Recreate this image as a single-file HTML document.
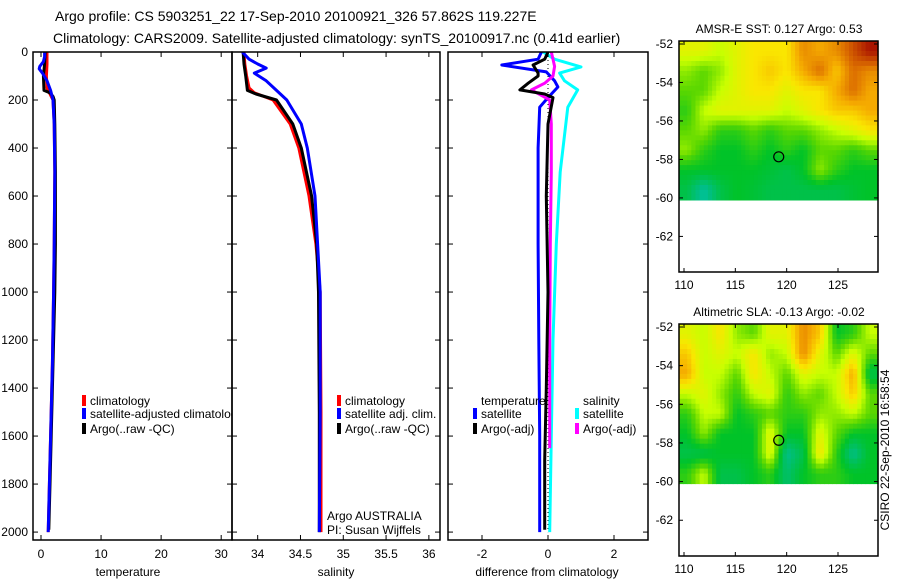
<!DOCTYPE html>
<html><head><meta charset="utf-8">
<style>
body{margin:0;background:#fff;}
svg{display:block;font-family:"Liberation Sans",sans-serif;}
text{fill:#000;}
</style></head>
<body>
<svg id="s" width="900" height="580" viewBox="0 0 900 580" xmlns="http://www.w3.org/2000/svg">
<text x="55" y="21" font-size="14">Argo profile: CS 5903251_22 17-Sep-2010 20100921_326 57.862S 119.227E</text>
<text x="53" y="43" font-size="14">Climatology: CARS2009. Satellite-adjusted climatology: synTS_20100917.nc (0.41d earlier)</text>
<text transform="translate(889,450) rotate(-90)" text-anchor="middle" font-size="12">CSIRO 22-Sep-2010 16:58:54</text>
</svg>
<script>
// ---------- data ----------
const depthTicks=[0,200,400,600,800,1000,1200,1400,1600,1800,2000];
const tempTicks=[0,10,20,30];
const salTicks=[34,34.5,35,35.5,36];
const diffTicks=[-2,0,2];
const lonTicks=[110,115,120,125];
const latTicks=[-52,-54,-56,-58,-60,-62];

const tClimDepth=[0,50,100,150,180,200,300,500,800,1000,1300,1600,1800,2000];
const tClimVal=[1.0,1.0,0.9,1.0,1.6,2.0,2.2,2.3,2.2,2.1,1.9,1.6,1.4,1.2];
const tSatDepth=[0,20,40,60,70,90,120,160,200,300,500,800,1000,1300,1600,1800,2000];
const tSatVal=[0.6,0.6,0.4,-0.2,-0.3,0.3,1.0,1.6,2.0,2.2,2.3,2.2,2.1,1.9,1.6,1.4,1.2];
const tArgoDepth=[0,50,100,160,170,185,200,300,500,800,1000,1300,1600,1800,1990];
const tArgoVal=[0.7,0.6,0.4,0.5,1.5,2.0,2.2,2.3,2.4,2.4,2.3,2.0,1.7,1.5,1.3];

const sClimDepth=[0,50,100,150,170,200,300,400,600,800,1000,1500,2000];
const sClimVal=[33.84,33.85,33.87,33.9,33.96,34.18,34.38,34.48,34.6,34.68,34.73,34.74,34.74];
const sSatDepth=[0,30,50,67,88,120,160,200,300,400,600,800,1000,1500,2000];
const sSatVal=[33.82,33.9,34.0,34.1,33.96,34.1,34.22,34.34,34.51,34.58,34.67,34.7,34.73,34.73,34.72];
const sArgoDepth=[0,50,100,160,175,200,300,400,600,800,1000,1500,2000];
const sArgoVal=[33.83,33.84,33.86,33.88,33.98,34.22,34.41,34.51,34.63,34.69,34.71,34.72,34.72];

const dTSatDepth=[0,30,54,83,120,146,190,230,400,800,1200,1600,2000];
const dTSatVal=[-0.2,-0.3,-1.4,-0.05,0.2,0.3,0.0,-0.25,-0.3,-0.3,-0.28,-0.25,-0.25];
const dTArgoDepth=[0,30,54,88,100,130,158,175,190,300,600,1000,1400,1700,1990];
const dTArgoVal=[0.0,-0.1,-0.45,-0.3,-0.3,-0.6,-0.85,-0.1,0.15,0.0,-0.05,0.0,-0.05,-0.1,-0.1];
const dSSatDepth=[0,30,62,88,120,158,230,500,800,1200,1600,2000];
const dSSatVal=[-0.15,0.2,1.0,0.35,0.5,0.9,0.6,0.37,0.25,0.15,0.1,0.05];
const dSArgoDepth=[0,30,60,100,130,158,200,300,500,800,1200,1650];
const dSArgoVal=[0.1,0.15,0.2,0.15,-0.1,-0.5,0.05,0.1,0.1,0.07,0.05,0.05];

const sstGrid=[
[.55,.55,.5,.55,.6,.6,.6,.75,.7,.75,.85,.95],
[.45,.4,.45,.55,.6,.65,.6,.7,.8,.65,.8,.75],
[.4,.4,.5,.55,.6,.6,.55,.6,.6,.7,.8,.7],
[.35,.5,.55,.55,.55,.55,.5,.55,.6,.65,.65,.7],
[.4,.45,.35,.35,.4,.35,.4,.4,.45,.5,.55,.6],
[.45,.35,.3,.3,.35,.3,.35,.3,.4,.4,.35,.4],
[.3,.3,.3,.3,.3,.28,.25,.3,.45,.35,.3,.3],
[.25,.12,.25,.3,.28,.25,.25,.25,.25,.25,.28,.3]];
const slaGrid=[
[.55,.5,.6,.45,.4,.55,.55,.75,.65,.3,.35,.5],
[.65,.5,.55,.5,.6,.45,.5,.75,.55,.4,.55,.4],
[.7,.5,.5,.4,.6,.5,.4,.55,.5,.5,.7,.25],
[.5,.55,.45,.35,.5,.55,.35,.45,.4,.5,.65,.4],
[.35,.5,.5,.3,.35,.4,.35,.35,.45,.45,.5,.4],
[.3,.45,.3,.3,.3,.55,.3,.3,.55,.4,.3,.3],
[.25,.25,.3,.3,.3,.55,.15,.25,.6,.35,.15,.3],
[.35,.5,.25,.25,.3,.35,.2,.3,.35,.35,.3,.3]];
const argoLon=[119.227];
const argoLat=[-57.862];

// ---------- helpers ----------
const S=document.getElementById('s');
const NS='http://www.w3.org/2000/svg';
function mk(tag,attrs,parent){const e=document.createElementNS(NS,tag);for(const k in attrs)e.setAttribute(k,attrs[k]);(parent||S).appendChild(e);return e;}
function txt(x,y,s,anchor,size,parent){const t=mk('text',{x:x,y:y,'font-size':size||12,'text-anchor':anchor||'start'},parent);t.textContent=s;return t;}

const Y0=52,Y1=540;
const yD=d=>Y0+(Y1-Y0)*d/2033;
function lin(a0,a1,p0,p1){return v=>p0+(v-a0)*(p1-p0)/(a1-a0);}

const panels=[
 {name:'temperature-panel',x0:33,x1:232,xs:lin(-1.33,31.8,33,232),ticks:tempTicks,label:'temperature',lblx:128,yl:true},
 {name:'salinity-panel',x0:232,x1:440,xs:lin(33.7,36.13,232,440),ticks:salTicks,label:'salinity',lblx:336},
 {name:'difference-panel',x0:448,x1:648,xs:lin(-3.03,3.03,448,648),ticks:diffTicks,label:'difference from climatology',lblx:547}
];
panels.forEach(p=>{
 const g=mk('g',{});
 
 
 const clipId='c'+p.name;
 const cp=mk('clipPath',{id:clipId},g);mk('rect',{x:p.x0,y:Y0,width:p.x1-p.x0,height:Y1-Y0},cp);
 p.g=mk('g',{'clip-path':'url(#'+clipId+')'},g);
 const fr=mk('rect',{x:p.x0,y:Y0,width:p.x1-p.x0,height:Y1-Y0,fill:'none',stroke:'#000','stroke-width':1.5},g);
 
 
 depthTicks.forEach(d=>{const y=yD(d);mk('line',{x1:p.x0,x2:p.x0+5,y1:y,y2:y,stroke:'#000'},g);mk('line',{x1:p.x1,x2:p.x1-5,y1:y,y2:y,stroke:'#000'},g);
  if(p.yl){const t=txt(28,y+4,String(d),'end',12,g);}});
 p.ticks.forEach(v=>{const x=p.xs(v);mk('line',{x1:x,x2:x,y1:Y0,y2:Y0+5,stroke:'#000'},g);mk('line',{x1:x,x2:x,y1:Y1,y2:Y1-5,stroke:'#000'},g);
  const t=txt(x,558,String(v),'middle',12,g);});
 const xl=txt(p.lblx,576,p.label,'middle',12,g);
 
 
});
function series(p,depths,vals,color,w,name,dash){
 const pts=depths.map((d,i)=>p.xs(vals[i]).toFixed(1)+','+yD(d).toFixed(1)).join(' ');
 const l=mk('polyline',{points:pts,fill:'none',stroke:color,'stroke-width':w,'stroke-linejoin':'round'},p.g);
 if(dash)l.setAttribute('stroke-dasharray',dash);
 
 
}
const [P1,P2,P3]=panels;
series(P1,tClimDepth,tClimVal,'#f00',3,'temp-climatology-line');
series(P1,tArgoDepth,tArgoVal,'#000',3,'temp-argo-line');
series(P1,tSatDepth,tSatVal,'#00f',3,'temp-satellite-line');
series(P2,sClimDepth,sClimVal,'#f00',3,'sal-climatology-line');
series(P2,sArgoDepth,sArgoVal,'#000',3,'sal-argo-line');
series(P2,sSatDepth,sSatVal,'#00f',3,'sal-satellite-line');
series(P3,[0,2000],[0,0],'#000',1,'zero-line','1,3');
series(P3,dSSatDepth,dSSatVal,'#0ff',3,'diff-sal-satellite-line');
series(P3,dTSatDepth,dTSatVal,'#00f',3,'diff-temp-satellite-line');
series(P3,dSArgoDepth,dSArgoVal,'#f0f',3,'diff-sal-argo-line');
series(P3,dTArgoDepth,dTArgoVal,'#000',3,'diff-temp-argo-line');

function legend(p,x,y,color,label,name){
 const g=mk('g',{},p.g);
 
 
 if(color)mk('rect',{x:x,y:y-9,width:4,height:11,fill:color},g);
 txt(x+(color?8:0),y+1,label,'start',12,g);
}
legend(P1,82,404,'#f00','climatology','legend-climatology');
legend(P1,82,417,'#00f','satellite-adjusted climatology','legend-satellite-adjusted');
legend(P1,82,432,'#000','Argo(..raw -QC)','legend-argo');
legend(P2,337,404,'#f00','climatology','legend-climatology');
legend(P2,337,417,'#00f','satellite adj. clim.','legend-satellite');
legend(P2,337,432,'#000','Argo(..raw -QC)','legend-argo');
legend(P2,327,519,null,'Argo AUSTRALIA','argo-australia-note');
legend(P2,327,533,null,'PI: Susan Wijffels','pi-note');
legend(P3,481,404,null,'temperature','legend-temperature-header');
legend(P3,473,417,'#00f','satellite','legend-temp-satellite');
legend(P3,473,432,'#000','Argo(-adj)','legend-temp-argo');
legend(P3,583,404,null,'salinity','legend-salinity-header');
legend(P3,575,417,'#0ff','satellite','legend-sal-satellite');
legend(P3,575,432,'#f0f','Argo(-adj)','legend-sal-argo');

// ---------- maps ----------
const cmapStops=[[0,[0,210,210]],[0.15,[0,190,140]],[0.3,[0,195,40]],[0.4,[90,215,0]],[0.5,[200,255,0]],[0.6,[250,230,0]],[0.7,[245,170,0]],[0.8,[220,110,0]],[0.95,[170,20,0]],[1,[150,0,0]]];
function cmap(v){for(let i=1;i<cmapStops.length;i++){if(v<=cmapStops[i][0]){const[a,ca]=cmapStops[i-1],[b,cb]=cmapStops[i];const t=(v-a)/(b-a);return 'rgb('+ca.map((c,j)=>Math.round(c+(cb[j]-c)*t)).join(',')+')';}}return 'rgb(150,0,0)';}
function sample(grid,fr,fc){
 const rows=grid.length,cols=grid[0].length;
 let r=Math.max(0,Math.min(rows-1,fr-0.5)),c=Math.max(0,Math.min(cols-1,fc-0.5));
 const r0=Math.floor(r),c0=Math.floor(c),r1=Math.min(rows-1,r0+1),c1=Math.min(cols-1,c0+1);
 const tr=r-r0,tc=c-c0;
 return grid[r0][c0]*(1-tr)*(1-tc)+grid[r0][c1]*(1-tr)*tc+grid[r1][c0]*tr*(1-tc)+grid[r1][c1]*tr*tc;
}
function drawMap(name,title,top,bot,grid){
 const x0=679,x1=878,y0=top,y1=bot;
 const lat52y=top+3;
 const yl=lin(-52,-62,lat52y,lat52y+(bot-top-3)*10/11.85);
 const xl=lin(110,125,684,838);
 const g=mk('g',{});
 
 
 const tt=txt(779,top-8,title,'middle',12,g);
 
 
 const rows=grid.length,cols=grid[0].length,sub=4;
 const lonA=109.5,lonB=128.9,latA=-51.85,latB=-60.1;
 for(let r=0;r<rows*sub;r++)for(let c=0;c<cols*sub;c++){
  const xa=xl(lonA+(lonB-lonA)*c/(cols*sub)),xb=xl(lonA+(lonB-lonA)*(c+1)/(cols*sub));
  const ya=yl(latA+(latB-latA)*r/(rows*sub)),yb=yl(latA+(latB-latA)*(r+1)/(rows*sub));
  const v=sample(grid,(r+0.5)/sub,(c+0.5)/sub);
  const cell=mk('rect',{x:xa.toFixed(1),y:ya.toFixed(1),width:(xb-xa+0.6).toFixed(1),height:(yb-ya+0.6).toFixed(1),fill:cmap(v)},g);
  
  
 }
 const mk1=mk('circle',{cx:xl(argoLon[0]),cy:yl(argoLat[0]),r:5,fill:'none',stroke:'#000','stroke-width':1.2},g);
 
 
 mk('rect',{x:x0,y:y0,width:x1-x0,height:y1-y0,fill:'none',stroke:'#000','stroke-width':1.5},g);
 latTicks.forEach(v=>{const y=yl(v);mk('line',{x1:x0,x2:x0+4,y1:y,y2:y,stroke:'#000'},g);mk('line',{x1:x1,x2:x1-4,y1:y,y2:y,stroke:'#000'},g);
  const t=txt(673,y+4,String(v),'end',12,g);});
 lonTicks.forEach(v=>{const x=xl(v);mk('line',{x1:x,x2:x,y1:y0,y2:y0+4,stroke:'#000'},g);mk('line',{x1:x,x2:x,y1:y1,y2:y1-4,stroke:'#000'},g);
  const t=txt(x,y1+17,String(v),'middle',12,g);});
}
drawMap('sst-map','AMSR-E SST: 0.127 Argo: 0.53',41,272,sstGrid);
drawMap('sla-map','Altimetric SLA: -0.13 Argo: -0.02',324,556,slaGrid);
</script>
</body></html>
